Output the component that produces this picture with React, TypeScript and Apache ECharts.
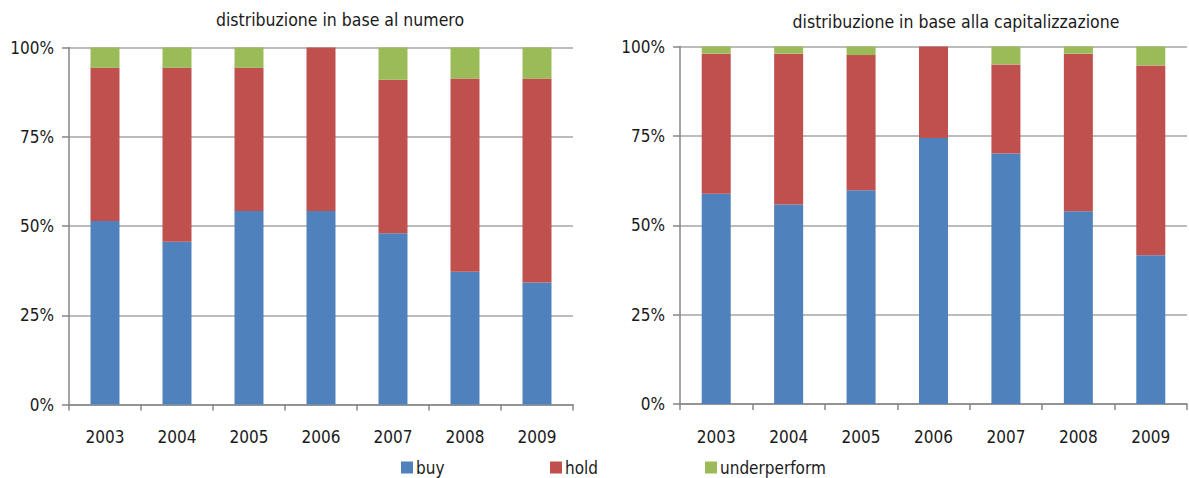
import React, { useEffect, useRef } from "react";
import * as echarts from "echarts";

const years = ["2003", "2004", "2005", "2006", "2007", "2008", "2009"];
const yTicks = [0, 25, 50, 75, 100];

const numBuy = [51.4, 45.6, 54.2, 54.2, 48.0, 37.2, 34.2];
const numHold = [42.9, 48.7, 40.1, 45.8, 43.0, 54.1, 57.1];
const numUnder = [5.7, 5.7, 5.7, 0, 9.0, 8.7, 8.7];

const capBuy = [58.8, 55.8, 59.8, 74.4, 70.1, 53.9, 41.6];
const capHold = [39.2, 42.2, 37.8, 25.6, 24.9, 44.1, 53.1];
const capUnder = [2.0, 2.0, 2.4, 0, 5.0, 2.0, 5.3];

const titles = ["distribuzione in base al numero", "distribuzione in base alla capitalizzazione"];
const seriesNames = ["buy", "hold", "underperform"];
const colors = ["#4f81bd", "#c0504d", "#9bbb59"];

const FONT = "'Liberation Sans Narrow', 'DejaVu Sans Condensed', 'Liberation Sans', sans-serif";

export default function App() {
  const ref = useRef<HTMLDivElement>(null);
  useEffect(() => {
    if (!ref.current) return;
    const chart = echarts.init(ref.current, undefined, { renderer: "svg" });
    const grids = [
      { left: 69, right: 616, top: 47.5, bottom: 73.5 },
      { left: 680, right: 2, top: 46.5, bottom: 74 },
    ];
    const xAxis = grids.map((_, i) => ({
      type: "category",
      gridIndex: i,
      data: years,
      boundaryGap: true,
      axisLine: { lineStyle: { color: "#868686", width: 1.5 } },
      axisTick: { show: true, length: 6, lineStyle: { color: "#868686", width: 1.5 } },
      axisLabel: { color: "#1a1a1a", fontSize: 17, margin: 24, fontFamily: FONT },
    }));
    const yAxis = grids.map((_, i) => ({
      type: "value",
      gridIndex: i,
      min: 0,
      max: 100,
      interval: 25,
      axisLine: { show: true, lineStyle: { color: "#868686", width: 1.5 } },
      axisTick: { show: true, length: 7, lineStyle: { color: "#868686", width: 1.5 } },
      splitLine: { show: true, lineStyle: { color: "#a6a6a6", width: 1.5 } },
      axisLabel: {
        color: "#1a1a1a",
        fontSize: 17,
        margin: 15,
        fontFamily: FONT,
        formatter: (v: number) => (yTicks.includes(v) ? `${v}%` : ""),
      },
    }));
    const data = [
      [numBuy, numHold, numUnder],
      [capBuy, capHold, capUnder],
    ];
    const series: any[] = [];
    data.forEach((set, gi) => {
      set.forEach((vals, si) => {
        series.push({
          type: "bar",
          name: seriesNames[si],
          xAxisIndex: gi,
          yAxisIndex: gi,
          stack: "s" + gi,
          data: vals,
          barWidth: 29,
          itemStyle: { color: colors[si] },
        });
      });
    });
    const legendLefts = [396, 545, 700];
    chart.setOption({
      animation: false,
      title: [
        {
          text: titles[0],
          left: 335,
          top: 6,
          textAlign: "center",
          textStyle: { fontSize: 17.5, fontWeight: "normal", color: "#1a1a1a", fontFamily: FONT },
        },
        {
          text: titles[1],
          left: 951,
          top: 8,
          textAlign: "center",
          textStyle: { fontSize: 17.5, fontWeight: "normal", color: "#1a1a1a", fontFamily: FONT },
        },
      ],
      legend: seriesNames.map((n, i) => ({
        data: [n],
        left: legendLefts[i],
        top: 454,
        itemWidth: 12,
        itemHeight: 12,
        itemGap: 0,
        icon: "rect",
        textStyle: { fontSize: 17, color: "#1a1a1a", fontFamily: FONT, padding: [0, 0, 0, -2] },
      })),
      grid: grids,
      xAxis,
      yAxis,
      series,
    });
    return () => chart.dispose();
  }, []);
  return (
    <div
      ref={ref}
      style={{ position: "fixed", left: 0, top: 0, width: 1189, height: 478, background: "#fff" }}
    />
  );
}
